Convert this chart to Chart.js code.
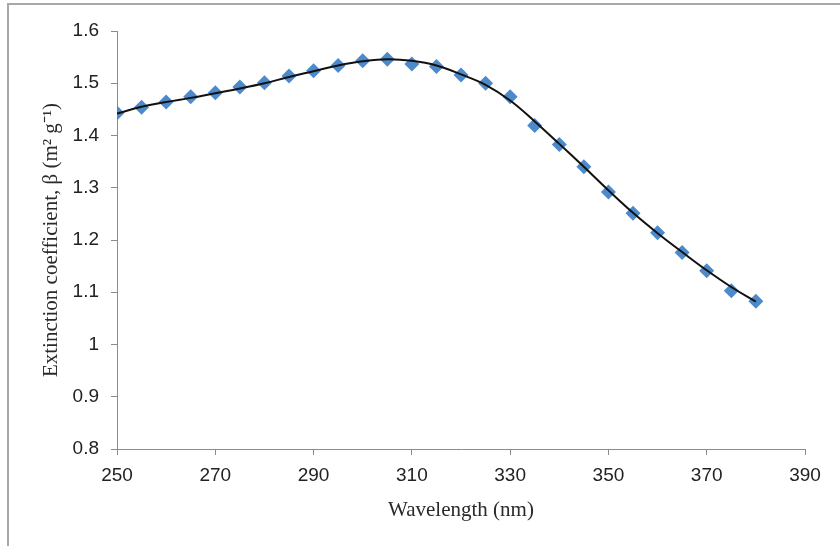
<!DOCTYPE html>
<html>
<head>
<meta charset="utf-8">
<title>Extinction coefficient vs wavelength</title>
<script src="https://cdn.jsdelivr.net/npm/chart.js@4/dist/chart.umd.min.js"></script>
<style>
  html, body { margin: 0; padding: 0; background: #fff; overflow: hidden; }
  .frame {
    position: absolute; left: 7px; top: 3px; width: 900px; height: 600px;
    border-left: 2px solid #a8a8a8; border-top: 2px solid #a8a8a8;
  }
  #chart { position: absolute; left: 0; top: 0; }
</style>
</head>
<body>
<div class="frame"></div>
<canvas id="chart" width="840" height="546"></canvas>
<script>
// Measured extinction coefficient, every 5 nm
const wavelengths = [250, 255, 260, 265, 270, 275, 280, 285, 290, 295, 300, 305, 310, 315,
  320, 325, 330, 335, 340, 345, 350, 355, 360, 365, 370, 375, 380];
const beta = [1.443, 1.454, 1.464, 1.474, 1.482, 1.493, 1.501, 1.514, 1.524, 1.534, 1.543, 1.546,
  1.537, 1.532, 1.516, 1.500, 1.474, 1.419, 1.383, 1.340, 1.292, 1.251, 1.214, 1.176, 1.141,
  1.103, 1.083];
// Smoothed trend curve at the same wavelengths
const betaTrend = [1.442, 1.455, 1.464, 1.472, 1.481, 1.490, 1.500, 1.512, 1.523, 1.534, 1.542,
  1.546, 1.543, 1.534, 1.517, 1.497, 1.467, 1.427, 1.384, 1.340, 1.295, 1.252, 1.213, 1.177,
  1.142, 1.110, 1.082];

const xTicks = [250, 270, 290, 310, 330, 350, 370, 390];
const yTicks = [0.8, 0.9, 1.0, 1.1, 1.2, 1.3, 1.4, 1.5, 1.6];

const axisColor = '#8c8c8c';
const toPoints = ys => wavelengths.map((x, i) => ({ x: x, y: ys[i] }));

new Chart(document.getElementById('chart'), {
  type: 'scatter',
  data: {
    datasets: [
      {
        label: 'Trend',
        data: toPoints(betaTrend),
        showLine: true,
        borderColor: '#111',
        borderWidth: 2,
        pointRadius: 0,
        tension: 0.4,
        order: 0
      },
      {
        label: 'β',
        data: toPoints(beta),
        pointStyle: 'rectRot',
        pointRadius: 7.5,
        pointBackgroundColor: '#4d8acb',
        pointBorderColor: '#4d8acb',
        pointBorderWidth: 0,
        order: 1
      }
    ]
  },
  options: {
    responsive: false,
    animation: false,
    devicePixelRatio: 1,
    layout: { padding: { top: 31, right: 35, left: 0, bottom: 0 } },
    plugins: {
      legend: { display: false },
      tooltip: { enabled: false }
    },
    scales: {
      x: {
        type: 'linear',
        min: 250,
        max: 390,
        afterBuildTicks: scale => { scale.ticks = xTicks.map(v => ({ value: v })); },
        afterFit: scale => { scale.height = 97; },
        grid: { drawOnChartArea: false, drawTicks: true, tickLength: 6, color: axisColor },
        border: { color: axisColor, width: 1 },
        ticks: {
          padding: 9,
          color: '#222',
          font: { family: 'Liberation Sans, Arial, sans-serif', size: 19 }
        },
        title: {
          display: true,
          text: 'Wavelength (nm)',
          color: '#2a2a2a',
          padding: { top: 0, bottom: 23 },
          font: { family: 'Liberation Serif, Times New Roman, serif', size: 21 }
        }
      },
      y: {
        min: 0.8,
        max: 1.6,
        afterBuildTicks: scale => { scale.ticks = yTicks.map(v => ({ value: v })); },
        afterFit: scale => { scale.width = 117; },
        grid: { drawOnChartArea: false, drawTicks: true, tickLength: 6, color: axisColor },
        border: { color: axisColor, width: 1 },
        ticks: {
          padding: 12,
          color: '#222',
          font: { family: 'Liberation Sans, Arial, sans-serif', size: 19 },
          callback: v => (Math.round(v * 10) / 10).toString()
        },
        title: {
          display: true,
          text: 'Extinction coefficient, β (m² g⁻¹)',
          color: '#2a2a2a',
          padding: { top: 39, bottom: 0 },
          font: { family: 'Liberation Serif, Times New Roman, serif', size: 21 }
        }
      }
    }
  }
});
</script>
</body>
</html>
